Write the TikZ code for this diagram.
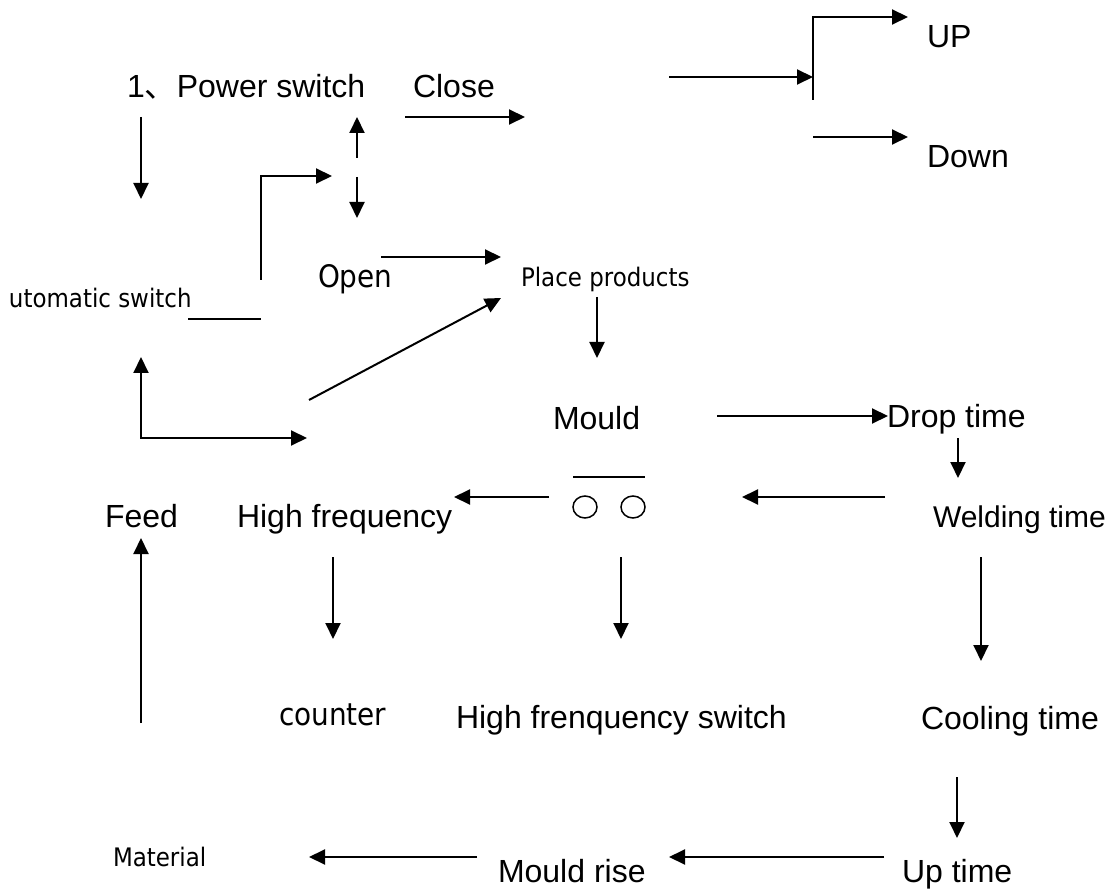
\documentclass[tikz,border=0pt]{standalone}
\usepackage{fontspec}
\setmainfont{Liberation Sans}
\newfontfamily\cjkfont{Noto Sans CJK SC}
\newfontfamily\tahoma[FakeStretch=0.9]{DejaVu Sans}
\usepackage{tikz}
\usetikzlibrary{arrows.meta}

\begin{document}
\begin{tikzpicture}[x=1pt, y=-1pt, line width=2pt,
    >={Triangle[length=16pt, width=15pt]},
    lbl/.style={anchor=base west, inner sep=0pt, font=\fontsize{32}{36}\selectfont},
    tlbl/.style={anchor=base west, inner sep=0pt, font=\tahoma\fontsize{31}{36}\selectfont},
    slbl/.style={anchor=base west, inner sep=0pt, font=\tahoma\fontsize{25.5}{30}\selectfont}]

    \useasboundingbox (0,0) rectangle (1111,890);

    % 1. 文字
    \node[lbl]  (pwr)      at (126,98)  {1{\cjkfont 、}Power switch};
    \node[lbl]  (close)    at (412,98)  {Close};
    \node[lbl]  (up)       at (926,48)  {UP};
    \node[lbl]  (down)     at (926,168) {Down};
    \node[slbl] (auto)     at (8,308)   {utomatic switch};
    \node[tlbl] (open)     at (317,288) {Open};
    \node[slbl] (place)    at (520,287) {Place products};
    \node[lbl]  (mould)    at (552,429) {Mould};
    \node[lbl]  (drop)     at (886,428) {Drop time};
    \node[lbl]  (feed)     at (104,527) {Feed};
    \node[lbl]  (hf)       at (236,527) {High frequency};
    \node[lbl, font=\fontsize{30}{34}\selectfont]
                (weld)     at (932,527) {Welding time};
    \node[tlbl] (counter)  at (278,725) {counter};
    \node[lbl]  (hfs)      at (455,728) {High frenquency switch};
    \node[lbl]  (cool)     at (920,729) {Cooling time};
    \node[slbl] (material) at (112,866) {Material};
    \node[lbl]  (rise)     at (497,882) {Mould rise};
    \node[lbl]  (uptime)   at (901,882) {Up time};

    % 2. 端点
    \coordinate (pwrA)   at (141,117);  \coordinate (pwrB)   at (141,199);
    \coordinate (swUpA)  at (357,158);  \coordinate (swUpB)  at (357,117);
    \coordinate (swDnA)  at (357,177);  \coordinate (swDnB)  at (357,218);
    \coordinate (autoA)  at (261,280);  \coordinate (autoB)  at (332,176);
    \coordinate (autoL)  at (188,319);  \coordinate (autoR)  at (261,319);
    \coordinate (closeA) at (405,117);  \coordinate (closeB) at (525,117);
    \coordinate (midA)   at (669,77);   \coordinate (midB)   at (813,77);
    \coordinate (barB)   at (813,100);  \coordinate (barT)   at (813,17);
    \coordinate (upTip)  at (908,17);
    \coordinate (dnA)    at (813,137);  \coordinate (dnB)    at (908,137);
    \coordinate (openA)  at (381,257);  \coordinate (openB)  at (501,257);
    \coordinate (diagA)  at (309,400);  \coordinate (diagB)  at (501,298);
    \coordinate (loopA)  at (141,357);  \coordinate (loopB)  at (307,438);
    \coordinate (placeA) at (597,297);  \coordinate (placeB) at (597,358);
    \coordinate (mouldA) at (717,416);  \coordinate (mouldB) at (888,416);
    \coordinate (dropA)  at (958,438);  \coordinate (dropB)  at (958,478);
    \coordinate (weldA)  at (885,497);  \coordinate (weldB)  at (742,497);
    \coordinate (ccA)    at (549,497);  \coordinate (ccB)    at (454,497);
    \coordinate (hfA)    at (333,557);  \coordinate (hfB)    at (333,639);
    \coordinate (ccC)    at (621,557);  \coordinate (ccD)    at (621,639);
    \coordinate (weldC)  at (981,557);  \coordinate (weldD)  at (981,661);
    \coordinate (feedA)  at (141,723);  \coordinate (feedB)  at (141,538);
    \coordinate (coolA)  at (957,777);  \coordinate (coolB)  at (957,838);
    \coordinate (upA)    at (884,857);  \coordinate (upB)    at (669,857);
    \coordinate (riseA)  at (477,857);  \coordinate (riseB)  at (309,857);

    % 3. 箭头
    \draw[->] (pwrA) -- (pwrB);
    \draw[->] (swUpA) -- (swUpB);
    \draw[->] (swDnA) -- (swDnB);
    \draw[->] (autoA) |- (autoB);
    \draw (autoL) -- (autoR);
    \draw[->] (closeA) -- (closeB);
    \draw[->] (midA) -- (midB);
    \draw[->] (barB) -- (barT) -- (upTip);
    \draw[->] (dnA) -- (dnB);
    \draw[->] (openA) -- (openB);
    \draw[->] (diagA) -- (diagB);
    \draw[<->] (loopA) |- (loopB);
    \draw[->] (placeA) -- (placeB);
    \draw[->] (mouldA) -- (mouldB);
    \draw[->] (dropA) -- (dropB);
    \draw[->] (weldA) -- (weldB);
    \draw[->] (ccA) -- (ccB);
    \draw[->] (hfA) -- (hfB);
    \draw[->] (ccC) -- (ccD);
    \draw[->] (weldC) -- (weldD);
    \draw[->] (feedA) -- (feedB);
    \draw[->] (coolA) -- (coolB);
    \draw[->] (upA) -- (upB);
    \draw[->] (riseA) -- (riseB);

    % 4. 模具 (两个圆)
    \draw (573,477) -- (645,477);
    \draw[line width=1.5pt] (585,507) ellipse [x radius=12, y radius=11];
    \draw[line width=1.5pt] (633,507) ellipse [x radius=12, y radius=11];

\end{tikzpicture}
\end{document}
